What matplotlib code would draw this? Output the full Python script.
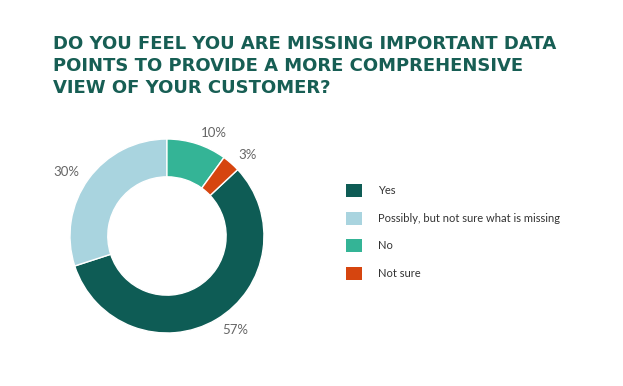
import numpy as np
import matplotlib.pyplot as plt
from matplotlib.patches import Patch

# Survey answers
answers = ['Yes', 'Possibly, but not sure what is missing', 'No', 'Not sure']
shares = [57, 30, 10, 3]
colors = ['#0e5c55', '#a9d4df', '#34b496', '#d6450f']

title = ('DO YOU FEEL YOU ARE MISSING IMPORTANT DATA\n'
         'POINTS TO PROVIDE A MORE COMPREHENSIVE\n'
         'VIEW OF YOUR CUSTOMER?')

plt.rcParams['font.family'] = ['Lato', 'DejaVu Sans']

fig = plt.figure(figsize=(6.23, 3.86), dpi=100)
fig.patch.set_facecolor('white')

fig.text(0.085, 1 - 35 / 386, title, ha='left', va='top', fontsize=13.0,
         fontweight='bold', family='DejaVu Sans', color='#175e54', linespacing=1.28)

ax = fig.add_axes([0.0734, 0.0745, 0.3892, 0.6282])
# Yes starts where "Not sure" ends, going clockwise from the top
start = 90 - 360 * (shares[2] + shares[3]) / sum(shares)
wedges, texts, pcts = ax.pie(shares, colors=colors, startangle=start, counterclock=False,
                             radius=1, autopct='%d%%', pctdistance=1.12,
                             wedgeprops=dict(width=0.39, edgecolor='white', linewidth=1),
                             textprops=dict(color='#666666', fontsize=9.5))
for t in pcts:
    x, y = t.get_position()
    t.set_ha('left' if x > 0 else 'right')
ax.set_xlim(-1.25, 1.25)
ax.set_ylim(-1.25, 1.25)
ax.set_aspect('equal')

handles = [Patch(facecolor=c, edgecolor='none') for c in colors]
fs = 8
fs_px = fs * 100 / 72
fig.legend(handles, answers, loc='upper left', bbox_to_anchor=(345.7 / 623, 1 - 184 / 386),
           frameon=False, fontsize=fs, handlelength=16 / fs_px, handleheight=16 / fs_px,
           handletextpad=16 / fs_px, labelspacing=1.3, borderpad=0, borderaxespad=0,
           labelcolor='#333333')

fig.savefig('out.png', dpi=100, facecolor='white')
